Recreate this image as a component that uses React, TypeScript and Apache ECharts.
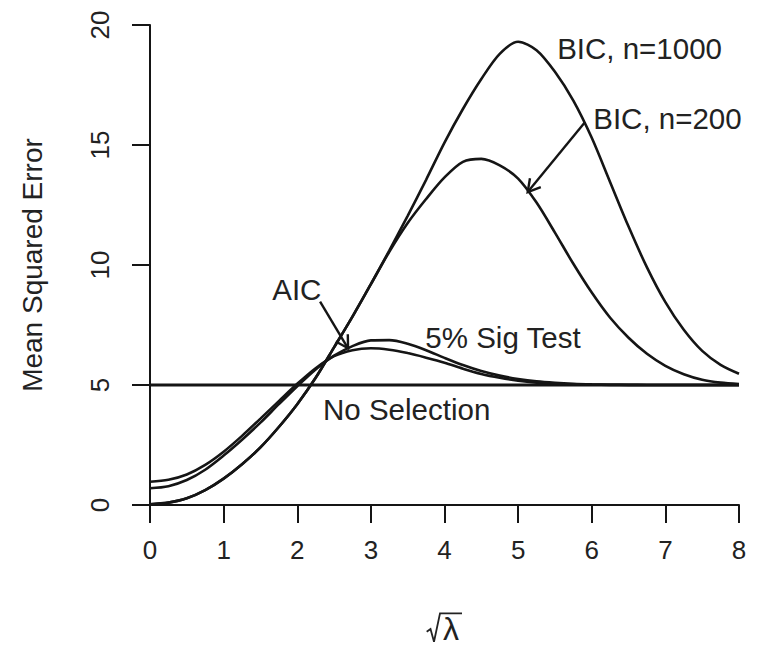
import React, { useEffect, useRef } from "react";
import * as echarts from "echarts";

// sqrt(lambda) grid
const xs = [0, 0.25, 0.5, 0.75, 1, 1.25, 1.5, 1.75, 2, 2.25, 2.5, 2.75, 3, 3.25, 3.5, 3.75, 4, 4.25, 4.5, 4.75, 5, 5.25, 5.5, 5.75, 6, 6.25, 6.5, 6.75, 7, 7.25, 7.5, 7.75, 8];

const aic = [0.97, 1.05, 1.27, 1.67, 2.22, 2.88, 3.6, 4.33, 5.05, 5.7, 6.2, 6.45, 6.53, 6.47, 6.33, 6.14, 5.93, 5.68, 5.46, 5.3, 5.18, 5.1, 5.055, 5.03, 5.015, 5.007, 5.003, 5.0, 5.0, 5.0, 5.0, 5.0, 5.0];
const sigTest = [0.7, 0.785, 1.04, 1.47, 2.06, 2.72, 3.43, 4.2, 4.95, 5.65, 6.22, 6.62, 6.86, 6.87, 6.72, 6.45, 6.13, 5.83, 5.58, 5.39, 5.25, 5.15, 5.09, 5.05, 5.027, 5.013, 5.006, 5.002, 5.0, 5.0, 5.0, 5.0, 5.0];
const bic1000 = [0.03, 0.1, 0.28, 0.62, 1.1, 1.7, 2.4, 3.25, 4.2, 5.3, 6.57, 7.85, 9.2, 10.6, 12.05, 13.55, 15.1, 16.5, 17.75, 18.8, 19.3, 18.95, 18.05, 16.85, 15.3, 13.45, 11.6, 9.9, 8.45, 7.3, 6.42, 5.84, 5.47];
const bic200 = [0.03, 0.1, 0.28, 0.62, 1.1, 1.7, 2.4, 3.25, 4.2, 5.3, 6.57, 7.85, 9.2, 10.55, 11.75, 12.75, 13.65, 14.3, 14.42, 14.15, 13.6, 12.6, 11.35, 10.05, 8.85, 7.8, 6.97, 6.3, 5.8, 5.45, 5.22, 5.1, 5.04];
const noSelection = 5;

const xMin = 0, xMax = 8, xStep = 1;
const yMin = 0, yMax = 20, yStep = 5;

const annotationTexts = ["BIC, n=1000", "BIC, n=200", "AIC", "5% Sig Test", "No Selection"];
const annotationX = [5.53, 6.02, 1.66, 3.74, 2.35];
const annotationY = [19.04, 16.1, 8.96, 7.0, 3.96];

const arrowFrom = [[2.31, 8.47], [5.91, 15.96]];
const arrowTo = [[2.69, 6.53], [5.13, 13.04]];

const INK = "#151515";
const FONT = "'Liberation Sans', Arial, Helvetica, sans-serif";

export default function App() {
  const ref = useRef<HTMLDivElement>(null);
  useEffect(() => {
    if (!ref.current) return;
    const chart = echarts.init(ref.current, null, { renderer: "svg" });
    const pts = (ys: number[]) => xs.map((x, i) => [x, ys[i]]);
    const lineSeries = (name: string, ys: number[]) => ({
      name,
      type: "line",
      data: pts(ys),
      smooth: 0.3,
      showSymbol: false,
      symbol: "none",
      lineStyle: { color: INK, width: 2.6 },
      z: 3,
    });
    chart.setOption({
      animation: false,
      backgroundColor: "#ffffff",
      grid: { left: 150, right: 20, top: 25, bottom: 148, containLabel: false },
      xAxis: {
        type: "value",
        min: xMin,
        max: xMax,
        interval: xStep,
        axisLine: { show: true, onZero: false, lineStyle: { color: INK, width: 2 } },
        axisTick: { show: true, length: 18, lineStyle: { color: INK, width: 2 } },
        axisLabel: { fontSize: 26, color: "#222", fontFamily: FONT, margin: 32 },
        splitLine: { show: false },
      },
      yAxis: {
        type: "value",
        min: yMin,
        max: yMax,
        interval: yStep,
        axisLine: { show: true, onZero: false, lineStyle: { color: INK, width: 2 } },
        axisTick: { show: true, length: 18, lineStyle: { color: INK, width: 2 } },
        axisLabel: { fontSize: 26, color: "#222", fontFamily: FONT, margin: 37, rotate: 90 },
        splitLine: { show: false },
      },
      graphic: [
        {
          type: "text",
          x: 32,
          y: 265,
          rotation: Math.PI / 2,
          style: {
            text: "Mean Squared Error",
            fontSize: 28,
            fontFamily: FONT,
            fill: "#222",
            align: "center",
            verticalAlign: "middle",
          },
        },
        {
          type: "polyline",
          shape: { points: [[426.7, 631.7], [430.5, 629], [434, 641.7], [440, 613.3], [462, 613.3]] },
          style: { stroke: "#222", lineWidth: 1.8, fill: "none" },
        },
        {
          type: "text",
          x: 451,
          y: 629,
          style: {
            text: "λ",
            fontSize: 32,
            fontFamily: FONT,
            fill: "#222",
            align: "center",
            verticalAlign: "middle",
          },
        },
      ],
      series: [
        {
          name: "No Selection",
          type: "line",
          data: [[xMin, noSelection], [xMax, noSelection]],
          showSymbol: false,
          symbol: "none",
          lineStyle: { color: INK, width: 2.8 },
          z: 3,
        },
        lineSeries("AIC", aic),
        lineSeries("5% Sig Test", sigTest),
        lineSeries("BIC, n=1000", bic1000),
        lineSeries("BIC, n=200", bic200),
        {
          name: "arrows",
          type: "custom",
          coordinateSystem: "cartesian2d",
          encode: { x: [0, 2], y: [1, 3] },
          data: arrowFrom.map((f, i) => [f[0], f[1], arrowTo[i][0], arrowTo[i][1]]),
          z: 5,
          renderItem: (params: any, api: any) => {
            const p0 = api.coord([api.value(0), api.value(1)]);
            const p1 = api.coord([api.value(2), api.value(3)]);
            const ang = Math.atan2(p1[1] - p0[1], p1[0] - p0[0]);
            const L = 14;
            const a = Math.PI / 6;
            const h1 = [p1[0] - L * Math.cos(ang - a), p1[1] - L * Math.sin(ang - a)];
            const h2 = [p1[0] - L * Math.cos(ang + a), p1[1] - L * Math.sin(ang + a)];
            return {
              type: "group",
              children: [
                { type: "line", shape: { x1: p0[0], y1: p0[1], x2: p1[0], y2: p1[1] }, style: { stroke: INK, lineWidth: 2.4 } },
                { type: "polyline", shape: { points: [h1, p1, h2] }, style: { stroke: INK, lineWidth: 2.4, fill: "none" } },
              ],
            };
          },
        },
        {
          name: "labels",
          type: "custom",
          coordinateSystem: "cartesian2d",
          data: annotationX.map((x, i) => [x, annotationY[i]]),
          z: 6,
          renderItem: (params: any, api: any) => {
            const p = api.coord([api.value(0), api.value(1)]);
            return {
              type: "text",
              x: p[0],
              y: p[1],
              style: {
                text: annotationTexts[params.dataIndex],
                fontSize: 29.5,
                fontFamily: FONT,
                fill: "#222",
                align: "left",
                verticalAlign: "middle",
              },
            };
          },
        },
      ],
    });
    return () => chart.dispose();
  }, []);
  return (
    <div
      ref={ref}
      style={{ position: "fixed", left: 0, top: 0, width: 759, height: 653, background: "#fff" }}
    />
  );
}
